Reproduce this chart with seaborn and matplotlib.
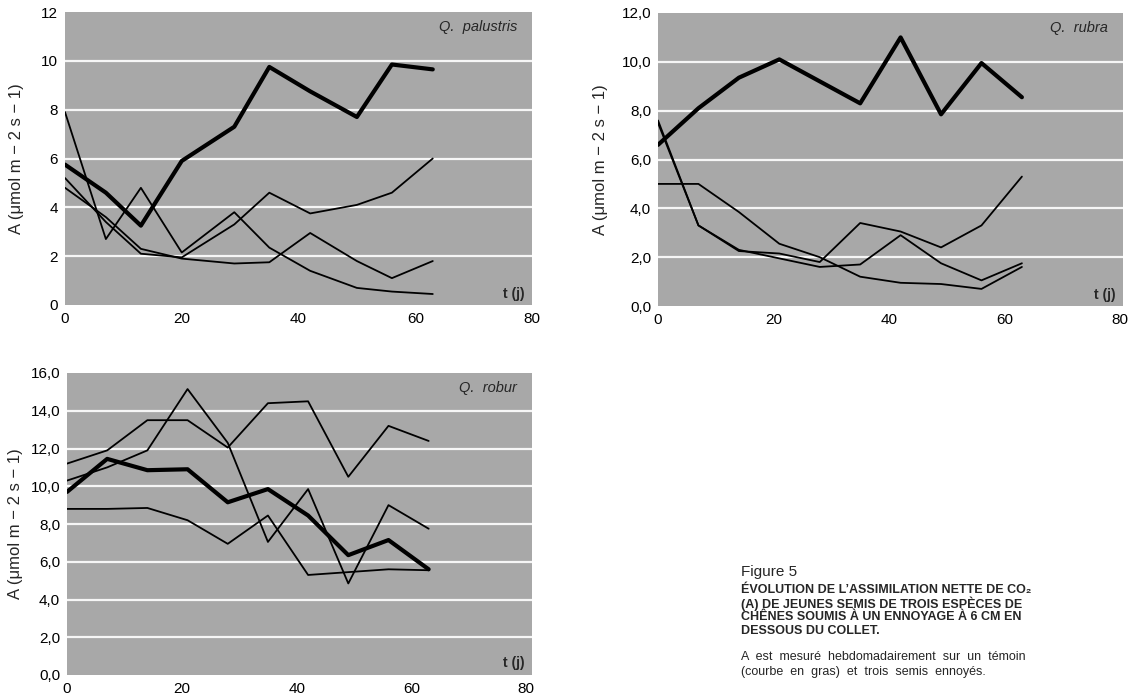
import numpy as np
import matplotlib
matplotlib.use("Agg")
import matplotlib.pyplot as plt
from matplotlib.ticker import FuncFormatter
import pandas as pd
import seaborn as sns

# Q. palustris
t_pal = [0, 7, 13, 20, 29, 35, 42, 50, 56, 63]
pal_temoin = [5.75, 4.6, 3.25, 5.9, 7.3, 9.75, 8.75, 7.7, 9.85, 9.65]
pal_s1 = [7.9, 2.7, 4.8, 2.15, 3.8, 2.35, 1.4, 0.7, 0.55, 0.45]
pal_s2 = [5.2, 3.4, 2.1, 1.95, 3.3, 4.6, 3.75, 4.1, 4.6, 6.0]
pal_s3 = [4.8, 3.6, 2.3, 1.9, 1.7, 1.75, 2.95, 1.8, 1.1, 1.8]

# Q. rubra
t_rub = [0, 7, 14, 21, 28, 35, 42, 49, 56, 63]
rub_temoin = [6.6, 8.1, 9.35, 10.1, 9.2, 8.3, 11.0, 7.85, 9.95, 8.55]
rub_s1 = [7.6, 3.3, 2.3, 1.95, 1.6, 1.7, 2.9, 1.75, 1.05, 1.75]
rub_s2 = [5.0, 5.0, 3.85, 2.55, 2.0, 1.2, 0.95, 0.9, 0.7, 1.6]
rub_s3 = [7.5, 3.3, 2.25, 2.15, 1.8, 3.4, 3.05, 2.4, 3.3, 5.3]

# Q. robur
t_rob = [0, 7, 14, 21, 28, 35, 42, 49, 56, 63]
rob_temoin = [9.7, 11.45, 10.85, 10.9, 9.15, 9.85, 8.45, 6.35, 7.15, 5.6]
rob_s1 = [10.3, 11.0, 11.9, 15.15, 12.3, 7.05, 9.85, 4.85, 9.0, 7.75]
rob_s2 = [11.2, 11.9, 13.5, 13.5, 12.05, 14.4, 14.5, 10.5, 13.2, 12.4]
rob_s3 = [8.8, 8.8, 8.85, 8.2, 6.95, 8.45, 5.3, 5.45, 5.6, 5.55]

sns.set_style("white")
plt.rcParams["font.family"] = ["Liberation Sans", "DejaVu Sans"]

BG = "#a8a8a8"
ylab = "A (\u03bcmol m \u2212 2 s \u2212 1)"

fig = plt.figure(figsize=(11.38, 7.0), dpi=100)


def panel(rect, t, temoin, semis, name, ymax, yticks, comma, xmax):
    ax = fig.add_axes(rect)
    ax.set_facecolor(BG)
    for s in semis:
        sns.lineplot(x=t, y=s, ax=ax, color="black", linewidth=1.3)
    sns.lineplot(x=t, y=temoin, ax=ax, color="black", linewidth=3.0)
    ax.set_xlim(0, xmax)
    ax.set_ylim(0, ymax)
    ax.set_xticks([0, 20, 40, 60, 80])
    ax.set_yticks(yticks)
    if comma:
        ax.yaxis.set_major_formatter(FuncFormatter(lambda v, p: f"{v:.1f}".replace(".", ",")))
    for y in yticks[1:-1]:
        ax.axhline(y, color="white", linewidth=1.6, alpha=0.9, zorder=0.5)
    for sp in ax.spines.values():
        sp.set_visible(False)
    ax.tick_params(length=0, labelsize=11, colors="black", pad=5)
    ax.set_ylabel(ylab, fontsize=12)
    ax.set_xlabel("")
    ax.text(0.968, 0.95, name, transform=ax.transAxes, ha="right", va="center",
            fontsize=10.5, style="italic")
    ax.text(0.985, 0.015, "t (j)", transform=ax.transAxes, ha="right", va="bottom",
            fontsize=10, fontweight="bold")
    return ax


W, H = 1138, 700


def rect(l, t, r, b):
    return [l / W, 1 - b / H, (r - l) / W, (b - t) / H]


ax1 = panel(rect(65, 12, 532, 305), t_pal, pal_temoin, [pal_s1, pal_s2, pal_s3],
            "Q.  palustris", 12, [0, 2, 4, 6, 8, 10, 12], False, 80)
ax2 = panel(rect(658, 13, 1123, 306), t_rub, rub_temoin, [rub_s1, rub_s2, rub_s3],
            "Q.  rubra", 12, [0, 2, 4, 6, 8, 10, 12], True, 80.5)
ax3 = panel(rect(67, 373, 532, 675), t_rob, rob_temoin, [rob_s1, rob_s2, rob_s3],
            "Q.  robur", 16, [0, 2, 4, 6, 8, 10, 12, 14, 16], True, 81)

ax1.yaxis.set_label_coords(-0.088, 0.5)
ax2.yaxis.set_label_coords(-0.108, 0.5)
ax3.yaxis.set_label_coords(-0.095, 0.5)

narrow = ["Liberation Sans Narrow", "Liberation Sans", "DejaVu Sans"]
x0 = 741 / W
fig.text(x0, 1 - 572 / H, "Figure 5", fontsize=11, va="center", ha="left")
title_lines = [
    "\u00c9VOLUTION DE L\u2019ASSIMILATION NETTE DE CO\u2082",
    "(A) DE JEUNES SEMIS DE TROIS ESP\u00c8CES DE",
    "CH\u00caNES SOUMIS \u00c0 UN ENNOYAGE \u00c0 6 CM EN",
    "DESSOUS DU COLLET.",
]
for i, line in enumerate(title_lines):
    fig.text(x0, 1 - (590 + 13.5 * i) / H, line, fontsize=9, fontweight="bold",
             family=narrow, va="center", ha="left")
body_lines = [
    "A  est  mesur\u00e9  hebdomadairement  sur  un  t\u00e9moin",
    "(courbe  en  gras)  et  trois  semis  ennoy\u00e9s.",
]
for i, line in enumerate(body_lines):
    fig.text(x0, 1 - (657 + 15 * i) / H, line, fontsize=9, family=narrow,
             va="center", ha="left")

fig.savefig("out.png", dpi=100)
